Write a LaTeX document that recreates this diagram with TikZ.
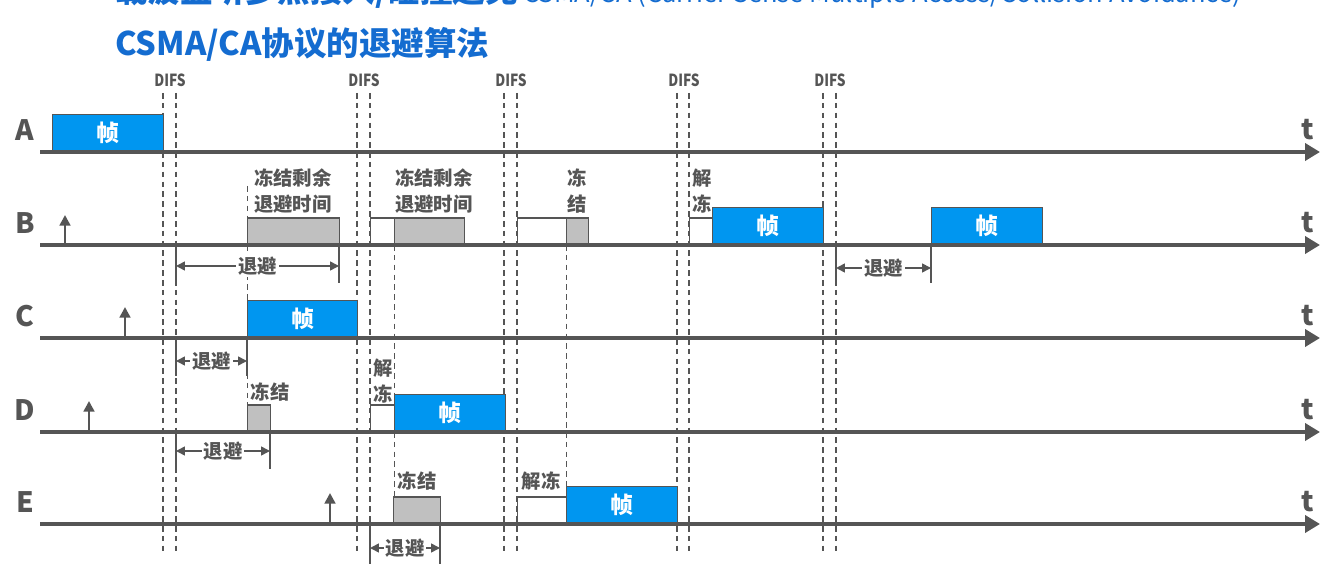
\documentclass[tikz,border=0pt]{standalone}
\usepackage{fontspec}
\setmainfont{Noto Sans CJK SC}
\usetikzlibrary{arrows.meta}

\definecolor{linegray}{RGB}{85,85,85}
\definecolor{framebl}{RGB}{0,150,240}
\definecolor{titlebl}{RGB}{20,108,208}
\definecolor{boxgray}{RGB}{192,192,192}

\begin{document}
\begin{tikzpicture}[
    x=0.02cm, y=-0.02cm,
    timeaxis/.style={line width=2.4pt, linegray, -{Triangle[length=0.3cm,width=0.34cm]}},
    difsline/.style={linegray, line width=0.7pt, dash pattern=on 3.2pt off 2.4pt},
    guide/.style={linegray, line width=0.5pt, dash pattern=on 3.2pt off 2.4pt},
    framebox/.style={rectangle, draw=linegray, fill=framebl, line width=0.8pt, anchor=south west,
                     minimum height=0.74cm, inner sep=0pt, text=white,
                     font=\bfseries\fontsize{13pt}{13pt}\selectfont},
    graybox/.style={rectangle, draw=linegray, fill=boxgray, line width=0.8pt, anchor=south west,
                    minimum height=0.53cm, inner sep=0pt},
    whitebox/.style={graybox, fill=white},
    note/.style={font=\bfseries\fontsize{11pt}{15pt}\selectfont, text=linegray, align=center, inner sep=1pt},
    rowlabel/.style={font=\bfseries\fontsize{16pt}{16pt}\selectfont, text=linegray},
    difslabel/.style={font=\bfseries\fontsize{9.5pt}{9.5pt}\selectfont, text=linegray, xscale=0.82},
    uparrow/.style={line width=1.6pt, linegray, -{Triangle[length=6pt,width=6pt]}},
    backoff/.style={line width=0.9pt, linegray, {Triangle[length=5pt,width=5pt]}-{Triangle[length=5pt,width=5pt]}},
    bolabel/.style={font=\bfseries\fontsize{11pt}{11pt}\selectfont, text=linegray, fill=white, inner sep=1pt},
    tick/.style={line width=0.9pt, linegray},
]
\useasboundingbox (0,0) rectangle (1342,567);

% titles
\node[anchor=west, text=titlebl, inner sep=0pt] (toptitle) at (115,-9)
    {\bfseries\fontsize{18.5pt}{18.5pt}\selectfont 载波监听多点接入/碰撞避免\,\mdseries\fontsize{14.5pt}{14.5pt}\selectfont CSMA/CA (Carrier Sense Multiple Access/Collision Avoidance)};
\node[anchor=west, text=titlebl, inner sep=0pt, font=\bfseries\fontsize{18.5pt}{18.5pt}\selectfont] (title) at (115,44)
    {CSMA/CA协议的退避算法};

% DIFS intervals
\foreach \x in {163,176,357,370,504,517,677,689,823,836}
    \draw[difsline] (\x,93) -- (\x,553);
\foreach \x/\n in {170/1,364/2,511/3,684/4,830/5}
    \node[difslabel] (difs\n) at (\x,80) {DIFS};

% helper lines
\draw[guide] (247,186) -- (247,405);
\draw[guide] (394,245) -- (394,496);
\draw[guide] (566,245) -- (566,487);

% station A
\node[framebox, minimum width=2.22cm] (fa) at (52,152) {帧};

% station B
\node[graybox, minimum width=1.84cm] (gb1) at (247,245) {};
\node[whitebox, minimum width=0.48cm] (wb1) at (370,245) {};
\node[graybox, minimum width=1.40cm] (gb2) at (394,245) {};
\node[whitebox, minimum width=0.98cm] (wb2) at (517,245) {};
\node[graybox, minimum width=0.44cm] (gb3) at (566,245) {};
\node[whitebox, minimum width=0.46cm] (wb3) at (689,245) {};
\node[framebox, minimum width=2.22cm] (fb1) at (712,245) {帧};
\node[framebox, minimum width=2.22cm] (fb2) at (931,245) {帧};
\node[note, anchor=west, align=left] (nb1) at (252,191) {冻结剩余\\退避时间};
\node[note, anchor=west, align=left] (nb2) at (393,191) {冻结剩余\\退避时间};
\node[note] (nb3) at (577,191) {冻\\结};
\node[note] (nb4) at (702,191) {解\\冻};

% station C
\node[framebox, minimum width=2.20cm] (fc) at (247,338) {帧};

% station D
\node[graybox, minimum width=0.46cm] (gd) at (247,432) {};
\node[whitebox, minimum width=0.48cm] (wd) at (370,432) {};
\node[framebox, minimum width=2.22cm] (fd) at (394,432) {帧};
\node[note] (nd1) at (270,392) {冻结};
\node[note] (nd2) at (383,381) {解\\冻};

% station E
\node[graybox, minimum width=0.94cm] (ge) at (393,524) {};
\node[whitebox, minimum width=0.98cm] (we) at (517,524) {};
\node[framebox, minimum width=2.22cm] (fe) at (566,524) {帧};
\node[note] (ne1) at (417,481) {冻结};
\node[note] (ne2) at (541,481) {解冻};

% time axes
\foreach \r/\y in {A/152,B/245,C/338,D/432,E/524} {
    \node[rowlabel] (lab\r) at (25,{\y-22}) {\r};
    \node[rowlabel] (t\r) at (1308,{\y-22}) {t};
    \coordinate (s\r) at (40,\y);
    \coordinate (e\r) at (1320,\y);
    \draw[timeaxis] (s\r) -- (e\r);
}

% frames ready to send
\coordinate (ub0) at (65,245);  \coordinate (ub1) at (65,215);
\coordinate (uc0) at (125,338); \coordinate (uc1) at (125,307);
\coordinate (ud0) at (89,432);  \coordinate (ud1) at (89,401);
\coordinate (ue0) at (330,524); \coordinate (ue1) at (330,493);
\draw[uparrow] (ub0) -- (ub1);
\draw[uparrow] (uc0) -- (uc1);
\draw[uparrow] (ud0) -- (ud1);
\draw[uparrow] (ue0) -- (ue1);

% backoff times
\draw[tick] (176,245) -- (176,283);
\draw[tick] (339,245) -- (339,283);
\draw[tick] (176,338) -- (176,376);
\draw[tick] (247,338) -- (247,376);
\draw[tick] (176,432) -- (176,469);
\draw[tick] (270,432) -- (270,469);
\draw[tick] (370,524) -- (370,564);
\draw[tick] (440,524) -- (440,564);
\draw[tick] (836,245) -- (836,283);
\draw[tick] (931,245) -- (931,283);
\coordinate (bb1l) at (176,266); \coordinate (bb1r) at (339,266);
\coordinate (bcl) at (176,361);  \coordinate (bcr) at (247,361);
\coordinate (bdl) at (176,451);  \coordinate (bdr) at (270,451);
\coordinate (bel) at (370,548);  \coordinate (ber) at (440,548);
\coordinate (bb2l) at (836,268); \coordinate (bb2r) at (931,268);
\draw[backoff] (bb1l) -- node[bolabel] {退避} (bb1r);
\draw[backoff] (bcl) -- node[bolabel] {退避} (bcr);
\draw[backoff] (bdl) -- node[bolabel] {退避} (bdr);
\draw[backoff] (bel) -- node[bolabel] {退避} (ber);
\draw[backoff] (bb2l) -- node[bolabel] {退避} (bb2r);
\end{tikzpicture}
\end{document}
